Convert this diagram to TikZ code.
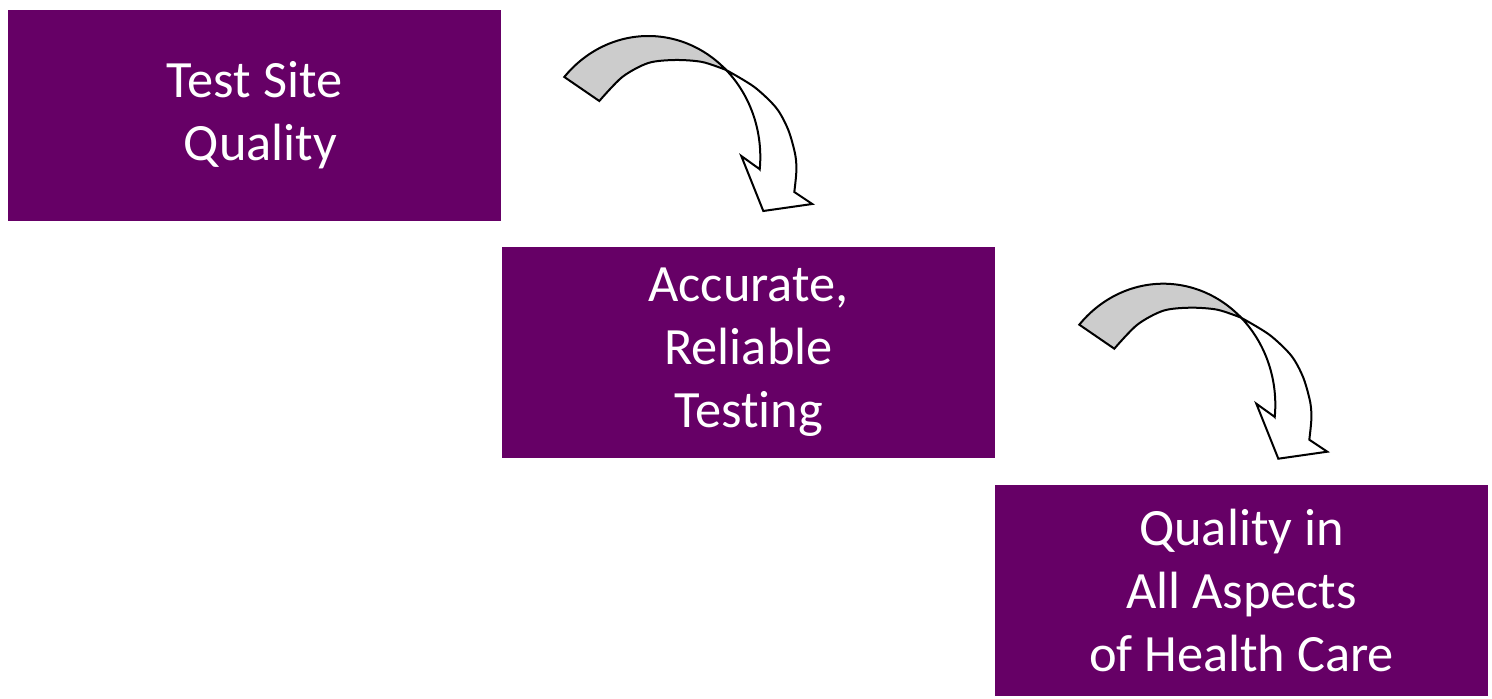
\documentclass[tikz,border=0pt]{standalone}
\usepackage{fontspec}
\setmainfont{Carlito}[Ligatures={NoCommon}]
\definecolor{boxpurple}{RGB}{102,0,102}
\definecolor{bandgray}{RGB}{204,204,204}
\tikzset{
  purplebox/.style={rectangle, fill=boxpurple, inner sep=0pt, minimum width=246.5pt, minimum height=105.5pt,
    text=white, align=center, font=\fontsize{26.2pt}{31.5pt}\selectfont},
  bandline/.style={draw=black, line width=1pt, line join=miter},
  curvarrow/.pic={
    \path[bandline, fill=bandgray]
      plot[domain=138.6:46, samples=40, smooth] ({84+112*cos(\x)},{80-121*sin(\x)})
      -- plot[smooth] coordinates {(161.8,-7) (138,-15) (111,-17) (84,-14) (58,0) (35,24)}
      -- cycle;
    \path[bandline, fill=white]
      plot[smooth] coordinates {(161.8,-7) (190,10) (212,31) (224,53) (231,78) (232,95) (230,115)}
      -- (248,127) -- (199,134) -- (177,79) -- (195.4,92.2)
      -- plot[domain=-5.8:46, samples=40, smooth] ({84+112*cos(\x)},{80-121*sin(\x)})
      -- cycle;
  }
}
\begin{document}
\begin{tikzpicture}[x=0.5pt, y=-0.5pt]
\useasboundingbox (0,0) rectangle (1492,699);
\node[purplebox] (site) at (254.5,115.5) {Test Site\\\hspace*{0.23em}Quality};
\node[purplebox] (testing) at (748.5,352.5) {Accurate,\\Reliable\\Testing};
\node[purplebox] (care) at (1241.5,590) {Quality in\\All Aspects\\of Health Care};
\coordinate (a1) at (564.3,77);
\coordinate (a2) at (1079.3,324.7);
\pic at (a1) {curvarrow};
\pic at (a2) {curvarrow};
\end{tikzpicture}
\end{document}
